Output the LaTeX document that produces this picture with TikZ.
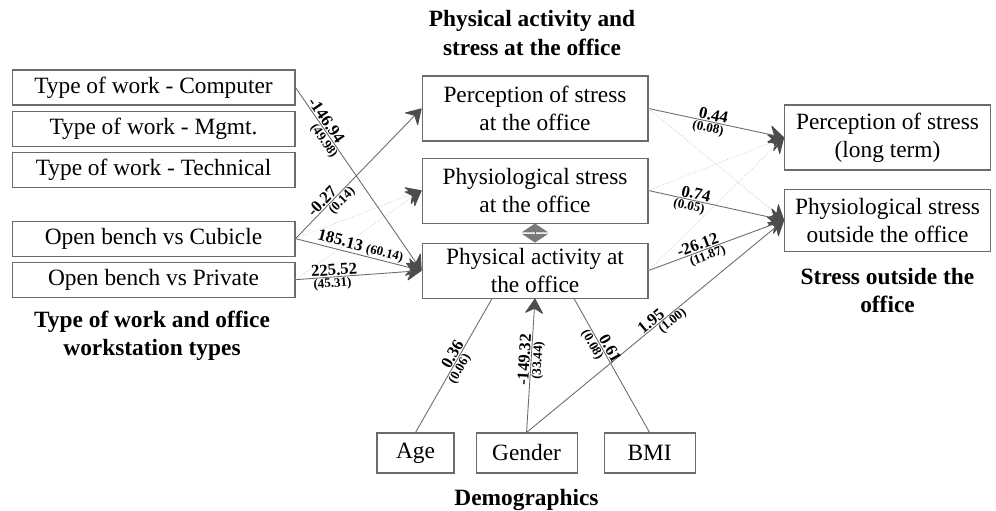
\documentclass[tikz,border=0pt]{standalone}
\usepackage{fontspec}
\setmainfont{Liberation Serif}
\usetikzlibrary{arrows.meta}
\usetikzlibrary{positioning}
\definecolor{linegray}{gray}{0.42}
\definecolor{tipgray}{gray}{0.3}
\tikzset{
    box/.style={
           rectangle,
           draw=linegray, line width=0.6pt,
           align=center,
           inner sep=1pt,
           text=black,
           font=\fontsize{13.3}{16}\selectfont,
           },
    wide/.style={box, minimum width=5.66cm, minimum height=0.7cm},
    mid/.style={box, minimum width=4.52cm, minimum height=1.3cm},
    outbox/.style={box, minimum width=4.12cm, minimum height=1.3cm},
    demo/.style={box, minimum height=0.8cm},
    title/.style={align=center, text=black, font=\bfseries\fontsize{13.3}{16}\selectfont},
    coef/.style={sloped, inner sep=0.5pt, text=black, font=\bfseries\fontsize{9.5}{10}\selectfont},
    se/.style={sloped, inner sep=0.5pt, text=black, font=\bfseries\fontsize{7.4}{8}\selectfont},
    tip/.style={-{Stealth[length=9pt,width=11pt,inset=3pt,round,color=tipgray]}},
    link/.style={color=linegray, line width=0.5pt, tip},
    plain/.style={color=linegray, line width=0.5pt},
    ns/.style={color=black!18, line width=0.5pt, densely dotted, tip},
}

\begin{document}
\begin{tikzpicture}[x=0.02cm,y=-0.02cm]

 \useasboundingbox (0,0) rectangle (996,510);

 % work type and workstation boxes (left column)
 \node[wide] (Computer) at (153.5,87.5) {Type of work - Computer};
 \node[wide, below=0.1cm of Computer] (Mgmt) {Type of work - Mgmt.};
 \node[wide, below=0.1cm of Mgmt] (Technical) {Type of work - Technical};
 \node[wide, below=0.66cm of Technical] (Cubicle) {Open bench vs Cubicle};
 \node[wide, below=0.1cm of Cubicle] (Private) {Open bench vs Private};
 \node[title] (Work Title) at (152,336) {Type of work and office\\workstation types};

 % at the office (middle column)
 \node[mid] (Perception Office) at (535,108.5) {Perception of stress\\at the office};
 \node[mid, below=0.32cm of Perception Office] (Physiological Office)
  {Physiological stress\\at the office};
 \node[mid, minimum height=1.1cm, below=0.38cm of Physiological Office] (Physical Activity)
  {Physical activity at\\the office};
 \node[title] (Office Title) at (532,33) {Physical activity and\\stress at the office};

 % outside the office (right column)
 \node[outbox] (Perception Long) at (887.5,137.5) {Perception of stress\\(long term)};
 \node[outbox, minimum height=1.25cm, below=0.36cm of Perception Long] (Physiological Outside)
  {Physiological stress\\outside the office};
 \node[title, below=0.2cm of Physiological Outside] (Stress Title)
  {Stress outside the\\office};

 % demographics (bottom row)
 \node[demo, minimum width=1.54cm] (Age) at (415.5,453) {Age};
 \node[demo, minimum width=2.02cm, right=0.42cm of Age] (Gender) {Gender};
 \node[demo, minimum width=1.82cm, right=0.52cm of Gender] (BMI) {BMI};
 \node[title, below=0.2cm of Gender] (Demo Title) {Demographics};

 % non significant paths (faint, dotted)
 \path[ns] (Cubicle.east) edge (Physiological Office.west)
 (Private.east)          edge (Physiological Office.west)
 (Physiological Office.east) edge (Perception Long.west)
 (Physical Activity.east)    edge (Perception Long.west)
 (Perception Office.east)    edge (Physiological Outside.west);

 % significant paths with estimate and (standard error)
 \path[link] (Computer.east) edge
   node[coef, above, pos=0.2] {-146.94} node[se, below, pos=0.27] {(49.98)} (Physical Activity.west)
 (Cubicle.east) edge
   node[coef, above, pos=0.25] {-0.27} node[se, below, pos=0.33] {(0.14)} (Perception Office.west)
 (Cubicle.east) edge
   node[coef, above, pos=0.5] {185.13 {\fontsize{7.4}{8}\selectfont(60.14)}} (Physical Activity.west)
 (Private.east) edge
   node[coef, above, pos=0.31] {225.52} node[se, below, pos=0.29] {(45.31)} (Physical Activity.west);

 \path[link] (Perception Office.east) edge
   node[coef, above, pos=0.47] {0.44} node[se, below, pos=0.45] {(0.08)} (Perception Long.west)
 (Physiological Office.east) edge
   node[coef, above, pos=0.34] {0.74} node[se, below, pos=0.31] {(0.05)} (Physiological Outside.west)
 (Physical Activity.east) edge
   node[coef, above, pos=0.38] {-26.12} node[se, below, pos=0.42] {(11.87)} (Physiological Outside.west)
 (Gender.north) edge
   node[coef, above, pos=0.5] {1.95} node[se, below, pos=0.55] {(1.00)} (Physiological Outside.west);

 \path[link] (Gender.north) edge
   node[coef, above, pos=0.54] {-149.32} node[se, below, pos=0.54] {(33.44)} (Physical Activity.south);
 \path[plain] (Age.north) edge
   node[coef, above, pos=0.56] {0.36} node[se, below, pos=0.5] {(0.06)} ([xshift=-0.86cm]Physical Activity.south)
 (BMI.north) edge
   node[coef, above, pos=0.6] {0.61} node[se, below, pos=0.68] {(0.08)} ([xshift=0.78cm]Physical Activity.south);

 % correlation between the two office outcomes
 \path[plain,
  {Triangle[length=5pt,width=15pt,color=tipgray!75]}-{Triangle[length=5pt,width=15pt,color=tipgray!75]}]
  (Physiological Office.south) edge (Physical Activity.north);

\end{tikzpicture}
\end{document}
